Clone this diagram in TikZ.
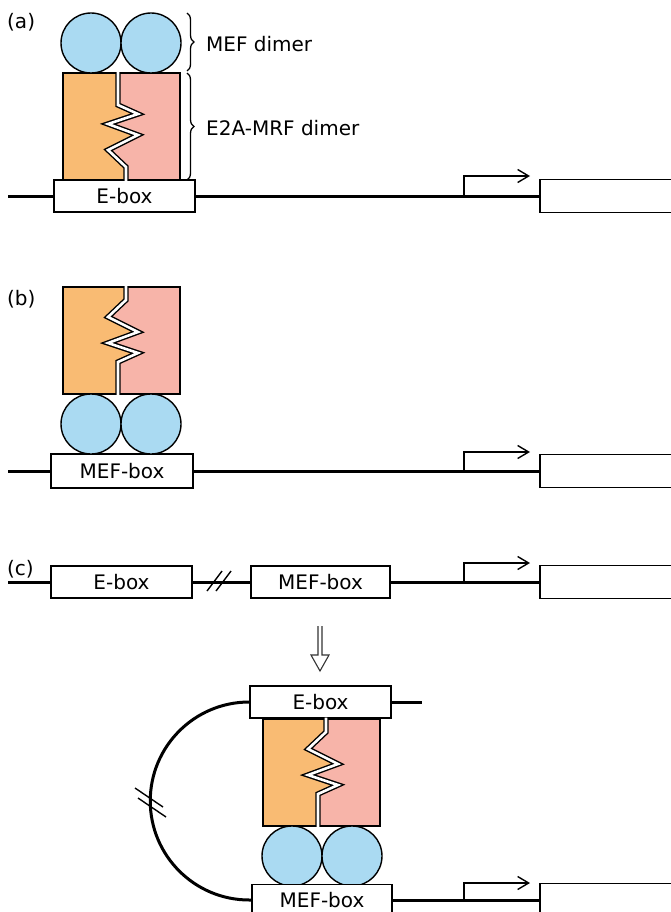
\documentclass[tikz,border=0pt]{standalone}
\usepackage{fontspec}
\setmainfont{DejaVu Sans}
\usetikzlibrary{decorations.pathreplacing,arrows.meta}
\definecolor{orng}{RGB}{249,187,115}
\definecolor{pnk}{RGB}{247,180,169}
\definecolor{blu}{RGB}{170,218,242}
\newcommand\dimerblk[1]{%
\begin{scope}[#1]
\fill[orng] (0,0) rectangle (117,107);
\fill[pnk] (63,0) -- (63,13) -- (45,30) -- (75,45) -- (45,56) -- (75,66) -- (55,75) -- (55,107) -- (117,107) -- (117,0) -- cycle;
\draw[line width=1.4pt] (0,0) rectangle (117,107);
\draw[line width=5.4pt] (63,-0.7) -- (63,13) -- (45,30) -- (75,45) -- (45,56) -- (75,66) -- (55,75) -- (55,107.7);
\draw[line width=2.6pt, white] (63,-1.5) -- (63,13) -- (45,30) -- (75,45) -- (45,56) -- (75,66) -- (55,75) -- (55,108.5);
\end{scope}}
\tikzset{
 dna/.style={line width=3pt},
 boxnode/.style={draw, line width=1.5pt, fill=white, minimum height=32pt, inner sep=0pt, font=\fontsize{20}{24}\selectfont},
 genebox/.style={draw, line width=1.5pt, fill=white, minimum height=33pt, minimum width=170pt, inner sep=0pt},
 ball/.style={circle, draw, line width=1.4pt, fill=blu, minimum size=60pt, inner sep=0pt},
 lbl/.style={font=\fontsize{20}{24}\selectfont, inner sep=0pt, anchor=west},
 prom/.style={line width=1.4pt, -{Straight Barb[length=11pt,width=13pt,line width=1.4pt]}},
 brk/.style={line width=1.4pt},
 brc/.style={line width=1.3pt, decorate, decoration={brace, amplitude=7pt}}
}
\begin{document}
\begin{tikzpicture}[x=1pt,y=-1pt]
\useasboundingbox (0,0) rectangle (671,912);
\clip (0,0) rectangle (671,912);
\fill[white] (0,0) rectangle (671,912);

% ---------- panel (a)
\node[lbl] (la) at (7,22) {(a)};
\coordinate (a0) at (8,196);
\node[boxnode, minimum width=141pt] (ebox-a) at (124.5,196) {E-box};
\node[genebox, anchor=west] (gene-a) at (539,196) {};
\draw[dna] (a0) -- (ebox-a.west);
\draw[dna] (ebox-a.east) -- (gene-a.west);
\coordinate (pa) at (464,196);
\draw[prom] (pa) -- ++(0,-20) -- ++(66,0);
\dimerblk{shift={(63,180)}, yscale=-1}
\node[ball] (ma1) at (91,43) {};
\node[ball] (ma2) at (151,43) {};
\draw[brc] (187,13) -- (187,71);
\draw[brc] (187,73) -- (187,180);
\node[lbl] (mefd) at (206,44) {MEF dimer};
\node[lbl] (e2a) at (206,128) {E2A-MRF dimer};

% ---------- panel (b)
\node[lbl] (lb) at (7,299) {(b)};
\coordinate (b0) at (8,471);
\node[boxnode, minimum width=142pt, minimum height=34pt] (mbox-b) at (122,471) {MEF-box};
\node[genebox, anchor=west] (gene-b) at (539,471) {};
\draw[dna] (b0) -- (mbox-b.west);
\draw[dna] (mbox-b.east) -- (gene-b.west);
\coordinate (pb) at (464,471);
\draw[prom] (pb) -- ++(0,-19) -- ++(66,0);
\dimerblk{shift={(63,287)}}
\node[ball] (mb1) at (91,424) {};
\node[ball] (mb2) at (151,424) {};

% ---------- panel (c) top
\node[lbl] (lc) at (7,569) {(c)};
\coordinate (c0) at (8,582);
\node[boxnode, minimum width=141pt] (ebox-c) at (121.5,582) {E-box};
\node[boxnode, minimum width=139pt] (mbox-c) at (320.5,582) {MEF-box};
\node[genebox, anchor=west] (gene-c) at (539,582) {};
\draw[dna] (c0) -- (ebox-c.west);
\draw[dna] (ebox-c.east) -- (mbox-c.west);
\draw[dna] (mbox-c.east) -- (gene-c.west);
\draw[brk] (207,591) -- (222,571);
\draw[brk] (216,591) -- (231,571);
\coordinate (pc) at (464,582);
\draw[prom] (pc) -- ++(0,-19) -- ++(66,0);

% down arrow
\draw[line width=1.1pt, draw=black!80, line join=miter] (318,626) -- (318,655) -- (311,655) -- (320,671) -- (329,655) -- (322,655) -- (322,626);

% ---------- panel (c) bottom
\node[boxnode, minimum width=141pt] (ebox-d) at (320.5,702) {E-box};
\coordinate (d1) at (422,702);
\draw[dna] (ebox-d.east) -- (d1);
\dimerblk{shift={(263,719)}}
\node[ball] (md1) at (292,856) {};
\node[ball] (md2) at (352,856) {};
\node[boxnode, minimum width=140pt, minimum height=31pt] (mbox-d) at (322,900) {MEF-box};
\node[genebox, anchor=west] (gene-d) at (539,900) {};
\draw[dna] (mbox-d.east) -- (gene-d.west);
\draw[dna] (ebox-d.west) arc[start angle=270, end angle=90, radius=99] -- (mbox-d.west);
\draw[brk] (135,788) -- (163,807);
\draw[brk] (138,798) -- (166,817);
\coordinate (pd) at (464,900);
\draw[prom] (pd) -- ++(0,-17) -- ++(66,0);
\end{tikzpicture}
\end{document}
